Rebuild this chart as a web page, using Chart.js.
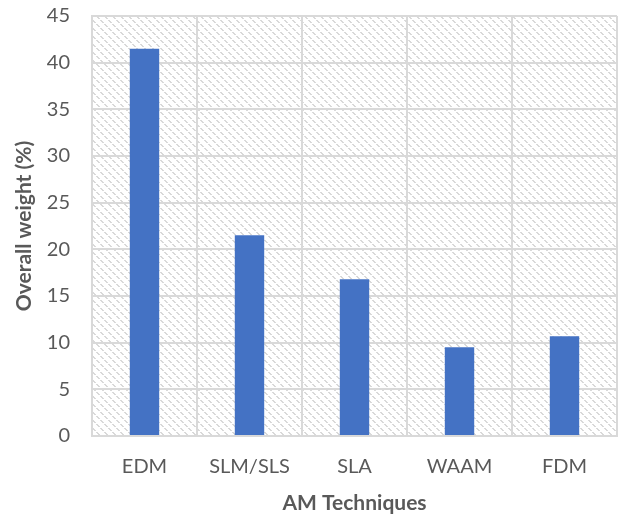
<!DOCTYPE html>
<html>
<head>
<meta charset="utf-8">
<script src="https://cdn.jsdelivr.net/npm/chart.js@4"></script>
<style>
  html, body { margin: 0; padding: 0; background: #ffffff; }
  #wrap { width: 618px; height: 516px; }
</style>
</head>
<body>
<div id="wrap"><canvas id="c" width="618" height="516"></canvas></div>
<script>
// AM technique weights
const techniques = ['EDM', 'SLM/SLS', 'SLA', 'WAAM', 'FDM'];
const overallWeight = [41.5, 21.5, 16.8, 9.5, 10.7];
const yTicks = [0, 5, 10, 15, 20, 25, 30, 35, 40, 45];

const FONT = 'Lato, "Open Sans", sans-serif';
const TEXT = '#595959';
const GRID = '#d9d9d9';

// light diagonal hatch used as plot-area background
function hatchPattern(ctx) {
  const tile = document.createElement('canvas');
  tile.width = 8; tile.height = 8;
  const t = tile.getContext('2d');
  t.fillStyle = '#ffffff';
  t.fillRect(0, 0, 8, 8);
  t.fillStyle = '#d9d9d9';
  for (let i = 0; i < 8; i++) {
    if (i % 4 === 3) continue;
    t.fillRect(i, i, 1, 1);
    t.fillRect((i + 1) % 8, i, 1, 1);
  }
  return ctx.createPattern(tile, 'repeat');
}

const plotBackground = {
  id: 'plotBackground',
  beforeDraw(chart) {
    const { ctx, chartArea: a } = chart;
    ctx.save();
    ctx.fillStyle = hatchPattern(ctx);
    ctx.fillRect(a.left, a.top, a.right - a.left, a.bottom - a.top);
    ctx.restore();
  }
};

new Chart(document.getElementById('c'), {
  type: 'bar',
  data: {
    labels: techniques,
    datasets: [{
      data: overallWeight,
      backgroundColor: '#4472C4',
      borderWidth: 0,
      categoryPercentage: 1,
      barPercentage: 0.28
    }]
  },
  options: {
    responsive: false,
    animation: false,
    layout: { padding: { top: 16, right: 1, left: 0, bottom: 0 } },
    plugins: { legend: { display: false }, tooltip: { enabled: false } },
    scales: {
      x: {
        grid: { color: GRID, lineWidth: 2, drawTicks: false, offset: true },
        border: { color: GRID, width: 2 },
        ticks: { color: TEXT, font: { family: FONT, size: 20 }, padding: 19 },
        title: {
          display: true, text: 'AM Techniques', color: TEXT,
          font: { family: FONT, size: 21, weight: 'bold' }, padding: { top: 8, bottom: 0 }
        },
        afterFit(scale) { scale.height = 80; scale.paddingLeft = 0; scale.paddingRight = 0; }
      },
      y: {
        min: 0, max: 45,
        afterBuildTicks(scale) { scale.ticks = yTicks.map(v => ({ value: v })); },
        grid: { color: GRID, lineWidth: 2, drawTicks: false },
        border: { color: GRID, width: 2 },
        ticks: { color: TEXT, font: { family: FONT, size: 20 }, padding: 22 },
        title: {
          display: true, text: 'Overall weight (%)', color: TEXT,
          font: { family: FONT, size: 21, weight: 'bold' }, padding: { top: 12, bottom: 6 }
        },
        afterFit(scale) { scale.width = 92; scale.paddingTop = 0; scale.paddingBottom = 0; }
      }
    }
  },
  plugins: [plotBackground]
});
</script>
</body>
</html>
